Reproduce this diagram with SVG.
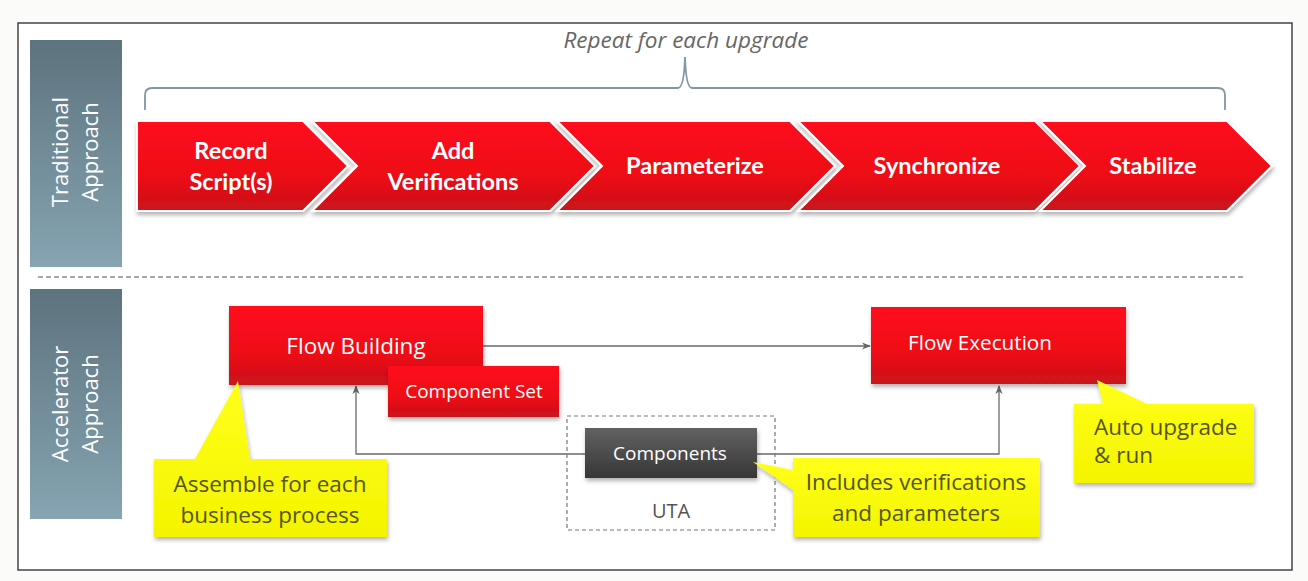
<svg xmlns="http://www.w3.org/2000/svg" width="1308" height="581" viewBox="0 0 1308 581">
<defs>
<linearGradient id="gRed" x1="0" y1="0" x2="0" y2="1"><stop offset="0" stop-color="#ff0a1c"/><stop offset="0.6" stop-color="#ee0a18"/><stop offset="1" stop-color="#c8141a"/></linearGradient>
<linearGradient id="gSide" x1="0" y1="0" x2="0" y2="1"><stop offset="0" stop-color="#5d737e"/><stop offset="1" stop-color="#86a4b2"/></linearGradient>
<linearGradient id="gDark" x1="0" y1="0" x2="0" y2="1"><stop offset="0" stop-color="#626262"/><stop offset="1" stop-color="#363636"/></linearGradient>
<linearGradient id="gYel" x1="0" y1="0" x2="0" y2="1"><stop offset="0" stop-color="#ffff1a"/><stop offset="1" stop-color="#f4f400"/></linearGradient>
<filter id="sh" x="-10%" y="-10%" width="130%" height="140%"><feDropShadow dx="1" dy="3" stdDeviation="2" flood-color="#000" flood-opacity="0.3"/></filter>
<marker id="arr" viewBox="0 0 10 10" refX="9" refY="5" markerWidth="9" markerHeight="9" markerUnits="userSpaceOnUse" orient="auto"><path d="M0,1 L10,5 L0,9 L3,5 Z" fill="#666"/></marker>
</defs>
<style>
.chev{fill:url(#gRed);stroke:#fff;stroke-width:2;filter:url(#sh)}
.ct{font-family:Lato,"Liberation Sans",sans-serif;font-weight:bold;font-size:23.5px;fill:#fff;text-anchor:middle}
.side{font-family:"Open Sans","Liberation Sans",sans-serif;font-size:22px;fill:#fff;text-anchor:middle}
.box{fill:url(#gRed);filter:url(#sh)}
.bt{font-family:"Open Sans","Liberation Sans",sans-serif;fill:#fff;text-anchor:middle}
.yel{fill:url(#gYel);filter:url(#sh)}
.yt{font-family:"Open Sans","Liberation Sans",sans-serif;font-size:22.5px;fill:#55551c}
.conn{fill:none;stroke:#6a6a6a;stroke-width:1.3}
</style>
<rect x="0" y="0" width="1308" height="581" fill="#fbfbfa"/>
<rect x="18" y="23" width="1274" height="547" fill="#fff" stroke="#444" stroke-width="1.5"/>

<g id="traditional-label">
<rect x="30" y="40" width="92" height="227" fill="url(#gSide)"/>
<text class="side" transform="translate(68,152) rotate(-90)">Traditional</text>
<text class="side" transform="translate(98,152) rotate(-90)">Approach</text>
</g>
<g id="repeat">
<text x="686" y="48" font-family="'Open Sans','Liberation Sans',sans-serif" font-style="italic" font-size="22.5" fill="#666" text-anchor="middle">Repeat for each upgrade</text>
<path d="M145,110 L145,95 Q145,88 152,88 L678,88 Q684,88 685,57 Q686,88 692,88 L1218,88 Q1225,88 1225,95 L1225,110" fill="none" stroke="#7f97a3" stroke-width="1.8"/>
</g>
<g id="step1"><path class="chev" d="M137,121 L303,121 L348,166 L303,211 L137,211 Z"/><text class="ct" x="231" y="159">Record</text><text class="ct" x="231" y="190">Script(s)</text></g>
<g id="step2"><path class="chev" d="M312,121 L550,121 L595,166 L550,211 L312,211 L357,166 Z"/><text class="ct" x="453" y="159">Add</text><text class="ct" x="453" y="190">Verifications</text></g>
<g id="step3"><path class="chev" d="M557,121 L790,121 L835,166 L790,211 L557,211 L602,166 Z"/><text class="ct" x="695" y="174">Parameterize</text></g>
<g id="step4"><path class="chev" d="M798,121 L1035,121 L1080,166 L1035,211 L798,211 L843,166 Z"/><text class="ct" x="937" y="174">Synchronize</text></g>
<g id="step5"><path class="chev" d="M1040,121 L1227,121 L1272,166 L1227,211 L1040,211 L1085,166 Z"/><text class="ct" x="1153" y="174">Stabilize</text></g>

<line x1="38" y1="277" x2="1243" y2="277" stroke="#555" stroke-width="1.2" stroke-dasharray="5,3"/>

<g id="accelerator-label">
<rect x="30" y="289" width="92" height="230" fill="url(#gSide)"/>
<text class="side" transform="translate(68,404) rotate(-90)">Accelerator</text>
<text class="side" transform="translate(98,404) rotate(-90)">Approach</text>
</g>

<g id="connectors">
<line class="conn" x1="483" y1="346" x2="870" y2="346" marker-end="url(#arr)"/>
<polyline class="conn" points="585,454 356,454 356,386" marker-end="url(#arr)"/>
<polyline class="conn" points="757,454 999,454 999,386" marker-end="url(#arr)"/>
</g>

<g id="uta">
<rect x="567" y="416" width="208" height="114" fill="none" stroke="#777" stroke-width="1.2" stroke-dasharray="4,3"/>
<text x="671" y="518" font-family="'Open Sans','Liberation Sans',sans-serif" font-size="20" fill="#555" text-anchor="middle">UTA</text>
</g>
<g id="flow-building"><rect class="box" x="229" y="306" width="254" height="79"/><text class="bt" x="356" y="354" font-size="22.5">Flow Building</text></g>
<g id="component-set"><rect class="box" x="388" y="366" width="171" height="51"/><text class="bt" x="474" y="398" font-size="19">Component Set</text></g>
<g id="flow-execution"><rect class="box" x="871" y="307" width="255" height="77"/><text class="bt" x="980" y="350" font-size="20.7">Flow Execution</text></g>
<g id="components"><rect x="585" y="428" width="172" height="50" fill="url(#gDark)" filter="url(#sh)"/><text class="bt" x="670" y="460" font-size="19">Components</text></g>

<g id="callout-assemble">
<path class="yel" d="M154,459 L195,459 L238,381 L250,459 L387,459 L387,537 L154,537 Z"/>
<text class="yt" x="270" y="492" text-anchor="middle">Assemble for each</text>
<text class="yt" x="270" y="523" text-anchor="middle">business process</text>
</g>
<g id="callout-includes">
<path class="yel" d="M793,458 L1040,458 L1040,537 L793,537 L793,490 L753,462 L793,470 Z"/>
<text class="yt" x="916" y="490" text-anchor="middle">Includes verifications</text>
<text class="yt" x="916" y="521" text-anchor="middle">and parameters</text>
</g>
<g id="callout-auto">
<path class="yel" d="M1074,404 L1103,404 L1097,380 L1147,404 L1254,404 L1254,483 L1074,483 Z"/>
<text class="yt" x="1094" y="435" font-size="18.5">Auto upgrade</text>
<text class="yt" x="1094" y="463" font-size="18.5">&amp; run</text>
</g>
</svg>
